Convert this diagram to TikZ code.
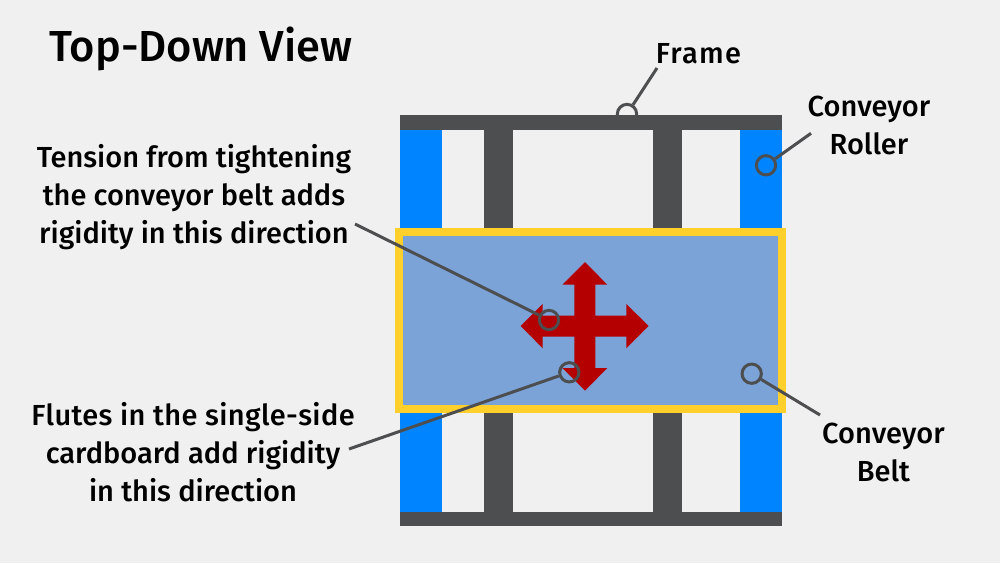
\documentclass[tikz,border=0pt]{standalone}
\usepackage{fontspec}
\setmainfont{Fira Sans}[UprightFont=* Medium]
\definecolor{bgc}{HTML}{F0F0F0}
\definecolor{darkc}{HTML}{4D4E50}
\definecolor{bluec}{HTML}{0084FF}
\definecolor{beltc}{HTML}{7BA3D8}
\definecolor{yelc}{HTML}{FFCF2B}
\definecolor{redc}{HTML}{B40000}
\tikzset{
  part/.style={fill=#1,draw=none},
  ring/.style={circle,draw=darkc,line width=3pt,minimum size=19.3pt,inner sep=0pt},
  lead/.style={draw=darkc,line width=3pt},
  lab/.style={font=\fontsize{29}{38}\selectfont,align=center,text=black,inner sep=0pt}
}
\begin{document}
\begin{tikzpicture}[x=1pt,y=-1pt]
\useasboundingbox (0,0) rectangle (1000,563);
\fill[bgc] (0,0) rectangle (1000,563);
% rollers
\fill[part=bluec] (400,129) rectangle (442,512);
\fill[part=bluec] (740,129) rectangle (782,512);
% struts
\fill[part=darkc] (484,129) rectangle (513,512);
\fill[part=darkc] (653,129) rectangle (682,512);
% frame
\fill[part=darkc] (400,115) rectangle (782,129.5);
\fill[part=darkc] (400,511.5) rectangle (782,526);
% belt
\draw[fill=beltc,draw=yelc,line width=8.5pt] (399,232) rectangle (781.8,409);
% arrow
\fill[part=redc] (585,262) -- (607.3,284.7) -- (595.3,284.7) -- (595.3,315.7) -- (626.3,315.7) -- (626.3,304) -- (648.7,326) -- (626.3,348.3) -- (626.3,336.5) -- (595.3,336.5) -- (595.3,368) -- (607.3,368) -- (585,390.7) -- (562.3,368) -- (574.3,368) -- (574.3,336.5) -- (542.7,336.5) -- (542.7,348.3) -- (520.7,326) -- (542.7,304) -- (542.7,315.7) -- (574.3,315.7) -- (574.3,284.7) -- (562.3,284.7) -- cycle;
% labels
\node[lab,anchor=base west] (title) at (49,61.7) {\fontsize{43.4}{48}\selectfont Top-Down View};
\node[lab] (frame) at (698.5,54) {\addfontfeature{LetterSpace=4.5}Frame};
\node[lab] (roller) at (869,125.5) {Conveyor\\Roller};
\node[lab] (belt) at (883.5,452.5) {Conveyor\\Belt};
\node[lab] (tension) at (194,197) {Tension from tightening\\the conveyor belt adds\\rigidity in this direction};
\node[lab] (flutes) at (193,452) {\addfontfeature{LetterSpace=1.3}Flutes in the single-side\\\addfontfeature{LetterSpace=0}cardboard add rigidity\\in this direction};
% rings and leaders
\node[ring] (r1) at (627,114) {};
\node[ring] (r2) at (766,165.3) {};
\node[ring] (r3) at (751.7,373.7) {};
\node[ring] (r4) at (549,320) {};
\node[ring] (r5) at (569.3,372.3) {};
\coordinate (e1) at (657,68);
\coordinate (e2) at (811,133.3);
\coordinate (e3) at (820,415);
\coordinate (e4) at (355,224);
\coordinate (e5) at (349,449);
\draw[lead] (r1) -- (e1);
\draw[lead] (r2) -- (e2);
\draw[lead] (r3) -- (e3);
\draw[lead] (r4) -- (e4);
\draw[lead] (r5) -- (e5);
\end{tikzpicture}
\end{document}
